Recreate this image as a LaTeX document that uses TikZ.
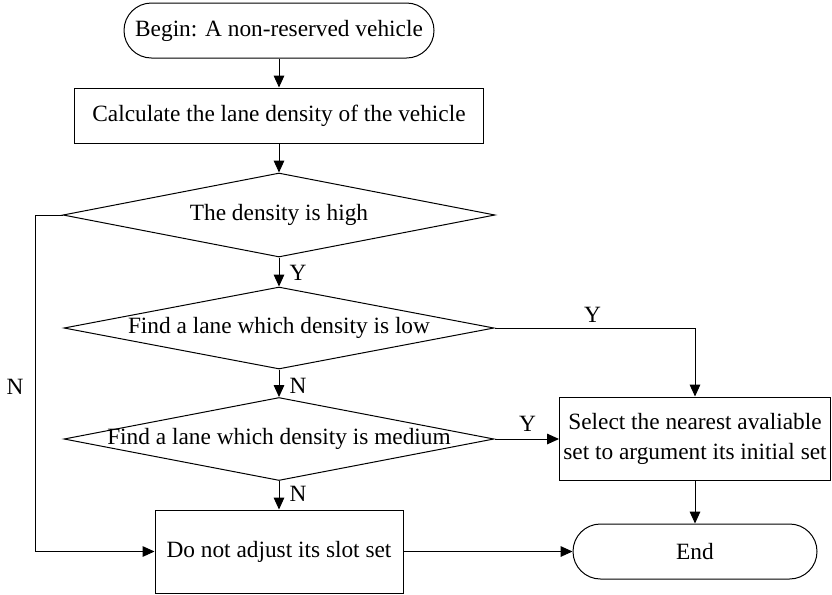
\documentclass[tikz,border=0pt]{standalone}
\usepackage{fontspec}
\setmainfont{Liberation Serif}
\usetikzlibrary{arrows.meta,shapes.geometric}
\begin{document}
\begin{tikzpicture}[x=0.75pt,y=-0.75pt,
  every node/.style={font=\fontsize{17.5}{22.5}\selectfont, line width=0.75pt},
  term/.style={draw, rectangle, rounded corners=20.6pt, minimum height=41.25pt, inner sep=0pt},
  proc/.style={draw, rectangle, inner sep=0pt, align=center},
  dec/.style={draw, diamond, inner sep=0pt, aspect=5},
  arr/.style={line width=0.75pt, -{Triangle[length=9pt,width=8pt]}},
  lbl/.style={inner sep=0pt}]
\useasboundingbox (0,0) rectangle (832,594);
\node[term, minimum width=232.5pt] (begin) at (279,30.5) {Begin: A non-reserved vehicle};
\node[proc, minimum width=306.75pt, minimum height=41.25pt] (calc) at (279,115.5) {Calculate the lane density of the vehicle};
\node[dec, minimum width=324pt, minimum height=63pt] (d1) at (279,215) {\makebox[0pt]{The density is high}};
\node[dec, minimum width=322.5pt, minimum height=61.5pt] (d2) at (279,328) {\makebox[0pt]{Find a lane which density is low}};
\node[dec, minimum width=322.5pt, minimum height=62.25pt] (d3) at (279,439) {\makebox[0pt]{Find a lane which density is medium}};
\node[proc, minimum width=186pt, minimum height=62.25pt] (keep) at (279,551.5) {Do not adjust its slot set};
\node[proc, minimum width=203.25pt, minimum height=62.25pt] (sel) at (695,438.5) {Select the nearest avaliable\\set to argument its initial set};
\node[term, minimum width=183pt] (endn) at (695,551.5) {End};

\draw[arr] (begin) -- (calc);
\draw[arr] (calc) -- (d1);
\draw[arr] (d1) -- (d2);
\draw[arr] (d2) -- (d3);
\draw[arr] (d3) -- (keep);
\draw[arr] (d2.east) -| (sel.north);
\draw[arr] (d3.east) -- (d3.east -| sel.west);
\draw[arr] (sel) -- (endn);
\draw[arr] (keep) -- (endn);
\draw[arr] (d1.west) -- ++(-27,0) |- (keep.west);

\node[lbl] (ly1) at (298,273) {Y};
\node[lbl] (ln1) at (298,386) {N};
\node[lbl] (ln2) at (298,494) {N};
\node[lbl] (ly2) at (592.5,315) {Y};
\node[lbl] (ly3) at (527.5,424) {Y};
\node[lbl] (ln3) at (15,387) {N};
\end{tikzpicture}
\end{document}
